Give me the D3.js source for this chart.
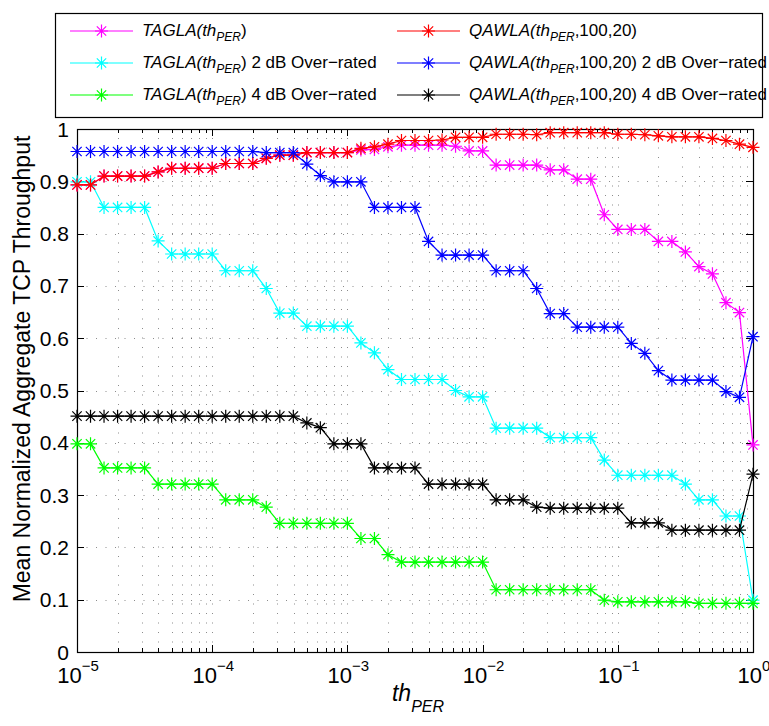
<!DOCTYPE html>
<html><head><meta charset="utf-8">
<script src="https://cdn.jsdelivr.net/npm/d3@7/dist/d3.min.js"></script>
<style>body{margin:0;background:#fff}svg{display:block;font-family:"Liberation Sans",Arial,Helvetica,sans-serif}</style>
</head><body><svg id="c" width="769" height="726"></svg>
<script>
// log10 of th_PER at each sample
const thPERExp = [-5,-4.9,-4.8,-4.7,-4.6,-4.5,-4.4,-4.3,-4.2,-4.1,
  -4,-3.9,-3.8,-3.7,-3.6,-3.5,-3.4,-3.3,-3.2,-3.1,
  -3,-2.9,-2.8,-2.7,-2.6,-2.5,-2.4,-2.3,-2.2,-2.1,
  -2,-1.9,-1.8,-1.7,-1.6,-1.5,-1.4,-1.3,-1.2,-1.1,
  -1,-0.9,-0.8,-0.7,-0.6,-0.5,-0.4,-0.3,-0.2,-0.1,0];

const taglaVals = [0.893,0.893,0.910,0.910,0.910,0.910,0.918,0.925,0.925,0.925,
  0.925,0.934,0.934,0.934,0.944,0.950,0.950,0.955,0.955,0.955,
  0.955,0.960,0.961,0.966,0.969,0.969,0.969,0.969,0.967,0.958,
  0.958,0.931,0.931,0.931,0.931,0.922,0.922,0.904,0.904,0.836,
  0.808,0.808,0.808,0.785,0.785,0.765,0.737,0.723,0.668,0.649,0.396];

const qawlaVals = [0.893,0.893,0.910,0.910,0.910,0.910,0.918,0.925,0.925,0.925,
  0.925,0.934,0.934,0.934,0.944,0.950,0.950,0.955,0.955,0.955,
  0.955,0.963,0.966,0.971,0.978,0.978,0.978,0.979,0.984,0.984,
  0.984,0.990,0.990,0.990,0.989,0.993,0.993,0.993,0.993,0.993,
  0.990,0.990,0.989,0.987,0.985,0.985,0.985,0.982,0.978,0.971,0.965];

const tagla2Vals = [0.899,0.899,0.850,0.850,0.850,0.850,0.786,0.761,0.761,0.761,
  0.761,0.729,0.729,0.729,0.695,0.648,0.648,0.623,0.623,0.623,
  0.623,0.591,0.572,0.540,0.521,0.521,0.521,0.521,0.500,0.488,
  0.488,0.428,0.428,0.428,0.428,0.410,0.410,0.410,0.410,0.367,
  0.338,0.338,0.338,0.338,0.338,0.321,0.291,0.291,0.260,0.260,0.099];

const qawla2Vals = [0.957,0.957,0.957,0.957,0.957,0.957,0.957,0.957,0.957,0.957,
  0.957,0.957,0.957,0.957,0.955,0.955,0.955,0.933,0.911,0.899,
  0.899,0.899,0.850,0.850,0.850,0.850,0.785,0.759,0.759,0.759,
  0.759,0.729,0.729,0.729,0.695,0.647,0.647,0.621,0.621,0.621,
  0.621,0.590,0.571,0.538,0.520,0.520,0.520,0.520,0.498,0.487,0.603];

const tagla4Vals = [0.398,0.398,0.352,0.352,0.352,0.352,0.321,0.321,0.321,0.321,
  0.321,0.291,0.291,0.291,0.277,0.246,0.246,0.246,0.246,0.246,
  0.246,0.217,0.217,0.186,0.172,0.172,0.172,0.172,0.172,0.172,
  0.172,0.119,0.119,0.119,0.119,0.119,0.119,0.119,0.119,0.099,
  0.096,0.096,0.096,0.096,0.096,0.096,0.093,0.093,0.093,0.093,0.093];

const qawla4Vals = [0.451,0.451,0.451,0.451,0.451,0.451,0.451,0.451,0.451,0.451,
  0.451,0.451,0.451,0.451,0.451,0.451,0.451,0.438,0.429,0.398,
  0.398,0.398,0.352,0.352,0.352,0.352,0.321,0.321,0.321,0.321,
  0.321,0.291,0.291,0.291,0.277,0.275,0.275,0.275,0.275,0.275,
  0.275,0.247,0.247,0.247,0.233,0.233,0.233,0.233,0.233,0.233,0.340];

const seriesNames = ["TAGLA","QAWLA","TAGLA2","QAWLA2","TAGLA4","QAWLA4"];
const seriesColors = ["#ff00ff","#ff0000","#00ffff","#0000ff","#00ff00","#000000"];
const seriesValues = [taglaVals, qawlaVals, tagla2Vals, qawla2Vals, tagla4Vals, qawla4Vals];
const legendSuffix = ["", "", " 2 dB Over\u2212rated", " 2 dB Over\u2212rated", " 4 dB Over\u2212rated", " 4 dB Over\u2212rated"];
const yTickValues = [0,0.1,0.2,0.3,0.4,0.5,0.6,0.7,0.8,0.9,1];
const xMajorExp = [-5,-4,-3,-2,-1,0];

const svg = d3.select("#c");
const L = 77, R = 753, T = 129, B = 652;
const x = d3.scaleLog().domain([1e-5, 1]).range([L, R]);
const y = d3.scaleLinear().domain([0, 1]).range([B, T]);

// grid
const gridColor = "#000";
const xTicksAll = x.ticks();
const isMajor = v => Math.abs(Math.log10(v) - Math.round(Math.log10(v))) < 1e-9;
svg.append("g").selectAll("line").data(xTicksAll.filter(v => v > 1e-5 && v < 1)).join("line")
  .attr("x1", d => Math.round(x(d)) + 0.5).attr("x2", d => Math.round(x(d)) + 0.5)
  .attr("y1", B).attr("y2", T)
  .attr("stroke", gridColor).attr("stroke-opacity", 0.45).attr("stroke-width", 1)
  .attr("stroke-dasharray", "1,8.5");
svg.append("g").selectAll("line").data(yTickValues.filter(v => v > 0 && v < 1)).join("line")
  .attr("x1", L).attr("x2", R)
  .attr("y1", d => Math.round(y(d)) + 0.5).attr("y2", d => Math.round(y(d)) + 0.5)
  .attr("stroke", gridColor).attr("stroke-opacity", 0.45).attr("stroke-width", 1)
  .attr("stroke-dasharray", "1,8.5");

// ticks (inward, mirrored)
const tk = svg.append("g").attr("stroke", "#000").attr("stroke-width", 1);
xTicksAll.forEach(v => {
  const len = isMajor(v) ? 7 : 4;
  const px = Math.round(x(v)) + 0.5;
  tk.append("line").attr("x1", px).attr("x2", px).attr("y1", B).attr("y2", B - len);
  tk.append("line").attr("x1", px).attr("x2", px).attr("y1", T).attr("y2", T + len);
});
yTickValues.forEach(v => {
  const py = Math.round(y(v)) + 0.5;
  tk.append("line").attr("x1", L).attr("x2", L + 7).attr("y1", py).attr("y2", py);
  tk.append("line").attr("x1", R).attr("x2", R - 7).attr("y1", py).attr("y2", py);
});

// box
svg.append("rect").attr("x", L + 0.5).attr("y", T + 0.5).attr("width", R - L).attr("height", B - T)
  .attr("fill", "none").attr("stroke", "#000").attr("stroke-width", 1.2);

// tick labels
svg.append("g").selectAll("text").data(yTickValues).join("text")
  .attr("x", L - 8).attr("y", d => y(d) + 7.5).attr("text-anchor", "end")
  .attr("font-size", 21).text(d => d3.format("~g")(d));

const xl = svg.append("g").selectAll("text").data(xMajorExp).join("text")
  .attr("x", d => x(Math.pow(10, d)) + 1).attr("y", 683).attr("text-anchor", "middle").attr("font-size", 22);
xl.append("tspan").text("10");
xl.append("tspan").attr("dy", -12).attr("font-size", 15).text(d => d === 0 ? "0" : "\u2212" + Math.abs(d));

// axis labels
const xlab = svg.append("text").attr("x", 418).attr("y", 701).attr("text-anchor", "middle").attr("font-size", 23);
xlab.append("tspan").attr("font-style", "italic").text("th");
xlab.append("tspan").attr("font-style", "italic").attr("font-size", 16).attr("dy", 11).text("PER");

svg.append("text").attr("transform", `translate(30,369) rotate(-90)`)
  .attr("text-anchor", "middle").attr("font-size", 23)
  .text("Mean Normalized Aggregate TCP Throughput");

// data
const star = s => { const d = s * 0.72; return `M0,${-s}L0,${s}M${-s},0L${s},0M${-d},${-d}L${d},${d}M${-d},${d}L${d},${-d}`; };
const order = [0, 2, 4, 1, 3, 5];
const line = d3.line().x((d, i) => x(Math.pow(10, thPERExp[i]))).y(d => y(d));
order.forEach(si => {
  const g = svg.append("g");
  g.append("path").attr("d", line(seriesValues[si])).attr("fill", "none")
    .attr("stroke", seriesColors[si]).attr("stroke-width", 1.2);
  g.selectAll("path.m").data(seriesValues[si]).join("path").attr("class", "m")
    .attr("transform", (d, i) => `translate(${x(Math.pow(10, thPERExp[i]))},${y(d)})`)
    .attr("d", star(6.5)).attr("stroke", seriesColors[si]).attr("stroke-width", 1.2).attr("fill", "none");
});

// legend
const lg = svg.append("g");
lg.append("rect").attr("x", 55.5).attr("y", 13.5).attr("width", 707).attr("height", 104)
  .attr("fill", "#fff").attr("stroke", "#000").attr("stroke-width", 1.2);
const rowY = [31, 63, 95];
const colX = [70, 397];
seriesNames.forEach((nm, i) => {
  const c = i % 2, r = Math.floor(i / 2);
  const x0 = colX[c], yy = rowY[r];
  lg.append("line").attr("x1", x0).attr("x2", x0 + 63).attr("y1", yy).attr("y2", yy)
    .attr("stroke", seriesColors[i]).attr("stroke-width", 1.2);
  lg.append("path").attr("transform", `translate(${x0 + 31.5},${yy})`).attr("d", star(6.5))
    .attr("stroke", seriesColors[i]).attr("stroke-width", 1.2).attr("fill", "none");
  const t = lg.append("text").attr("x", x0 + 72).attr("y", yy + 5).attr("font-size", 17);
  const base = nm.replace(/[0-9]/g, "");
  t.append("tspan").attr("font-style", "italic").text(base + "(th");
  t.append("tspan").attr("font-style", "italic").attr("font-size", 12).attr("dy", 5).text("PER");
  t.append("tspan").attr("dy", -5).text((base === "QAWLA" ? ",100,20)" : ")") + legendSuffix[i]);
});
</script></body></html>
